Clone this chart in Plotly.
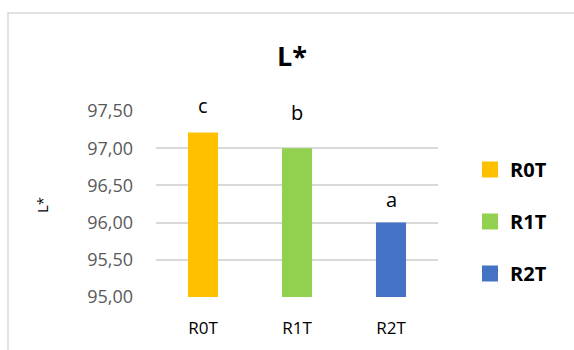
import plotly.graph_objects as go

# L* colour coordinate per treatment, with significance letters
treatments = ["R0T", "R1T", "R2T"]
l_star = [97.21, 97.00, 96.00]
letters = ["c", "b", "a"]
colors = ["#FFC000", "#92D050", "#4472C4"]

y_ticks = [95.0, 95.5, 96.0, 96.5, 97.0, 97.5]
y_tick_text = [f"{v:.2f}".replace(".", ",") for v in y_ticks]

W, H = 574, 350
L_M, R_M, T_M, B_M = 156, 136, 111, 53
plot_w = W - L_M - R_M
plot_h = H - T_M - B_M


def px_x(px):
    return (px - L_M) / plot_w


def px_y(px):
    return (H - B_M - px) / plot_h


fig = go.Figure()

for name, val, col in zip(treatments, l_star, colors):
    fig.add_trace(go.Bar(
        x=[name], y=[val], width=0.32,
        marker=dict(color=col, line=dict(width=0)),
        showlegend=False, hoverinfo="x+y",
    ))
    # legend entry with a larger square swatch
    fig.add_trace(go.Scatter(
        x=[None], y=[None], mode="markers", name=name,
        legendgroup=name,
        marker=dict(symbol="square", size=16, color=col),
    ))

# letters above each bar
label_offsets = [24, 32, 20]
for name, val, let, off in zip(treatments, l_star, letters, label_offsets):
    fig.add_annotation(
        x=name, y=val, text=let, showarrow=False,
        yanchor="bottom", yshift=off - 12,
        font=dict(family="Open Sans", size=20, color="#000000"),
    )

# chart title
fig.add_annotation(
    xref="paper", yref="paper", x=px_x(292), y=px_y(55),
    xanchor="center", yanchor="middle",
    text="<b>L*</b>", showarrow=False,
    font=dict(family="Open Sans", size=27, color="#000000"),
)

# y-axis title
fig.add_annotation(
    xref="paper", yref="paper", x=px_x(42), y=px_y(205),
    xanchor="center", yanchor="middle",
    text="L*", textangle=-90, showarrow=False,
    font=dict(family="Open Sans", size=15, color="#000000"),
)

# chart-area border
fig.add_shape(
    type="rect", xref="paper", yref="paper",
    x0=px_x(8), x1=px_x(W + 20),
    y0=px_y(H + 20), y1=px_y(13),
    line=dict(color="#D9D9D9", width=1.5),
    fillcolor="rgba(0,0,0,0)", layer="below",
)

fig.update_layout(
    width=W, height=H,
    margin=dict(l=L_M, r=R_M, t=T_M, b=B_M),
    paper_bgcolor="white", plot_bgcolor="white",
    barmode="overlay",
    showlegend=True,
    legend=dict(
        x=px_x(470), y=px_y(150),
        xanchor="left", yanchor="top",
        traceorder="grouped", tracegroupgap=23,
        font=dict(family="Open Sans", size=20, color="#000000", weight="bold"),
        bgcolor="rgba(0,0,0,0)", itemclick=False,
    ),
    font=dict(family="Open Sans"),
)

fig.update_xaxes(
    showgrid=False, showline=False, zeroline=False,
    tickfont=dict(family="Open Sans", size=17, color="#000000"),
    ticks="", ticklabelstandoff=19,
)
fig.update_yaxes(
    range=[95, 97.5], tickvals=y_ticks, ticktext=y_tick_text,
    showgrid=True, gridcolor="#D9D9D9", gridwidth=1.5,
    zeroline=False, showline=False, ticks="",
    tickfont=dict(family="Open Sans", size=18, color="#595959"),
    ticklabelstandoff=22,
)

fig.write_html("out.html")
